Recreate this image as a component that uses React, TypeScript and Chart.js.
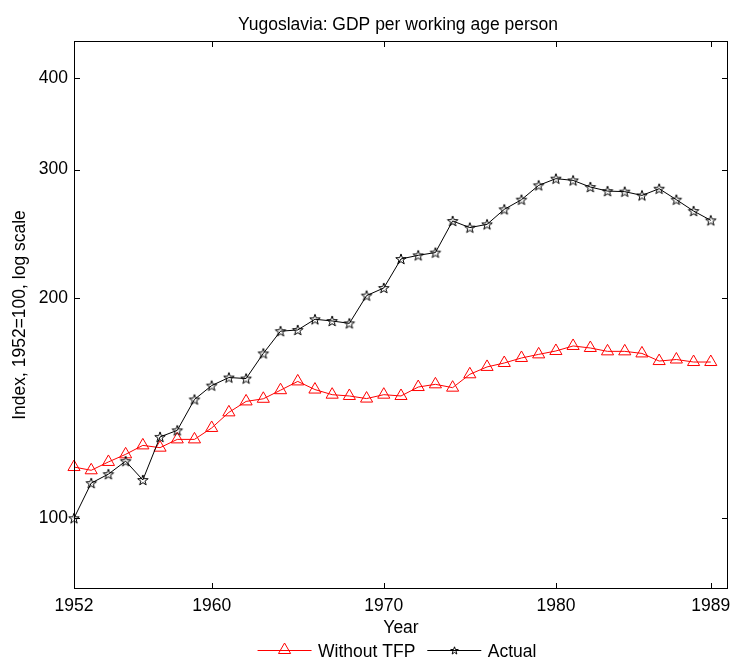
import React, { useEffect, useRef } from "react";
import { Chart, registerables } from "chart.js";

Chart.register(...registerables);

const YEARS = [
  1952, 1953, 1954, 1955, 1956, 1957, 1958, 1959, 1960, 1961,
  1962, 1963, 1964, 1965, 1966, 1967, 1968, 1969, 1970, 1971,
  1972, 1973, 1974, 1975, 1976, 1977, 1978, 1979, 1980, 1981,
  1982, 1983, 1984, 1985, 1986, 1987, 1988, 1989,
];

const WITHOUT_TFP = [
  117.5, 116.3, 119.4, 122.3, 125.8, 124.9, 128.2, 128.2, 132.9, 139.6,
  144.5, 145.7, 149.7, 153.9, 150.0, 147.6, 147.0, 145.8, 147.6, 147.0,
  151.2, 152.5, 150.9, 157.4, 161.1, 163.1, 165.7, 167.6, 169.4, 172.1,
  171.0, 169.2, 169.2, 168.1, 164.1, 164.9, 163.6, 163.6,
];

const ACTUAL = [
  100.0, 111.7, 114.9, 119.7, 112.8, 129.2, 131.9, 145.4, 151.9, 155.8,
  155.3, 168.1, 180.3, 181.0, 187.2, 186.2, 184.8, 201.7, 206.6, 226.4,
  229.0, 231.0, 255.2, 249.9, 252.5, 264.7, 272.9, 285.5, 291.6, 290.0,
  284.0, 280.4, 279.9, 276.6, 282.5, 272.9, 263.3, 255.7,
];

const X_TICKS = [1952, 1960, 1970, 1980, 1989];
const Y_TICKS = [100, 200, 300, 400];

const TITLE = "Yugoslavia: GDP per working age person";
const X_LABEL = "Year";
const Y_LABEL = "Index, 1952=100, log scale";
const SERIES_LABELS = ["Without TFP", "Actual"];

const FONT = '"Liberation Sans", Arial, Helvetica, sans-serif';
const FS = 17.5;

function makeStar(R: number): HTMLCanvasElement {
  const size = Math.ceil(R * 2 + 3);
  const c = document.createElement("canvas");
  c.width = size;
  c.height = size;
  const ctx = c.getContext("2d")!;
  const cx = size / 2;
  const cy = size / 2 + R * 0.08;
  ctx.beginPath();
  for (let i = 0; i < 10; i++) {
    const r = i % 2 === 0 ? R : R * 0.4;
    const a = -Math.PI / 2 + (i * Math.PI) / 5;
    const px = cx + r * Math.cos(a);
    const py = cy + r * Math.sin(a);
    if (i === 0) ctx.moveTo(px, py);
    else ctx.lineTo(px, py);
  }
  ctx.closePath();
  ctx.strokeStyle = "#000";
  ctx.lineWidth = 1;
  ctx.stroke();
  return c;
}

export default function App() {
  const ref = useRef<HTMLCanvasElement | null>(null);

  useEffect(() => {
    if (!ref.current) return;
    const star = makeStar(5.5);
    const smallStar = makeStar(4);

    const framePlugin = {
      id: "frameAndText",
      afterDraw(chart: any) {
        const { ctx, chartArea: a, scales } = chart;
        ctx.save();
        ctx.strokeStyle = "#000";
        ctx.lineWidth = 1;
        ctx.strokeRect(a.left + 0.5, a.top + 0.5, a.right - a.left - 1, a.bottom - a.top - 1);
        const T = 6;
        ctx.beginPath();
        scales.x.ticks.forEach((t: any) => {
          const px = Math.round(scales.x.getPixelForValue(t.value)) + 0.5;
          ctx.moveTo(px, a.bottom);
          ctx.lineTo(px, a.bottom - T);
          ctx.moveTo(px, a.top);
          ctx.lineTo(px, a.top + T);
        });
        scales.y.ticks.forEach((t: any) => {
          const py = Math.round(scales.y.getPixelForValue(t.value)) + 0.5;
          ctx.moveTo(a.left, py);
          ctx.lineTo(a.left + T, py);
          ctx.moveTo(a.right, py);
          ctx.lineTo(a.right - T, py);
        });
        ctx.stroke();

        // title
        ctx.fillStyle = "#000";
        ctx.font = `${FS}px ${FONT}`;
        ctx.textAlign = "center";
        ctx.textBaseline = "alphabetic";
        ctx.fillText(TITLE, (a.left + a.right) / 2 - 3, 29.5);

        // legend
        const ds = chart.data.datasets;
        const lineLen = 54;
        const g1 = 6.5;
        const g2 = 12;
        const widths = ds.map((d: any) => ctx.measureText(d.label).width);
        const total = ds.length * (lineLen + g1) + widths.reduce((s: number, w: number) => s + w, 0) + g2 * (ds.length - 1);
        const cxLegend = (a.left + a.right) / 2 - 4;
        let x = cxLegend - total / 2;
        const ly = 650;
        ctx.textAlign = "left";
        ds.forEach((d: any, i: number) => {
          ctx.strokeStyle = d.borderColor;
          ctx.lineWidth = 1;
          ctx.beginPath();
          ctx.moveTo(x, ly + 0.5);
          ctx.lineTo(x + lineLen, ly + 0.5);
          ctx.stroke();
          const mx = x + lineLen / 2;
          if (d.pointStyle === "triangle") {
            const r = 7;
            ctx.beginPath();
            ctx.moveTo(mx, ly - r);
            ctx.lineTo(mx + r * Math.sin((2 * Math.PI) / 3), ly - r * Math.cos((2 * Math.PI) / 3));
            ctx.lineTo(mx + r * Math.sin((4 * Math.PI) / 3), ly - r * Math.cos((4 * Math.PI) / 3));
            ctx.closePath();
            ctx.stroke();
          } else {
            ctx.drawImage(smallStar, Math.round(mx - smallStar.width / 2), Math.round(ly - smallStar.height / 2));
          }
          x += lineLen + g1;
          ctx.fillStyle = "#000";
          ctx.fillText(d.label, x, 656.5);
          x += widths[i] + g2;
        });
        ctx.restore();
      },
    };

    const font = { family: FONT, size: FS };

    const chart = new Chart(ref.current, {
      type: "line",
      data: {
        datasets: [
          {
            label: SERIES_LABELS[0],
            data: YEARS.map((yr, i) => ({ x: yr, y: WITHOUT_TFP[i] })),
            borderColor: "#ff0000",
            backgroundColor: "rgba(0,0,0,0)",
            borderWidth: 1,
            pointStyle: "triangle",
            pointRadius: 7,
            pointBorderColor: "#ff0000",
            pointBackgroundColor: "rgba(0,0,0,0)",
            pointBorderWidth: 1,
            tension: 0,
            clip: false,
            order: 1,
          },
          {
            label: SERIES_LABELS[1],
            data: YEARS.map((yr, i) => ({ x: yr, y: ACTUAL[i] })),
            borderColor: "#000000",
            backgroundColor: "rgba(0,0,0,0)",
            borderWidth: 1,
            pointStyle: star as any,
            pointRadius: 6,
            pointBorderColor: "#000000",
            pointBackgroundColor: "rgba(0,0,0,0)",
            tension: 0,
            clip: false,
            order: 0,
          },
        ] as any,
      },
      options: {
        responsive: false,
        animation: false,
        devicePixelRatio: 1,
        events: [],
        layout: { autoPadding: false, padding: { top: 41, right: 3, bottom: 0, left: 0 } },
        plugins: {
          legend: { display: false },
          title: { display: false },
          tooltip: { enabled: false },
        },
        scales: {
          x: {
            type: "linear",
            min: 1952,
            max: 1990,
            afterBuildTicks: (s: any) => {
              s.ticks = X_TICKS.map((v) => ({ value: v }));
            },
            afterFit: (s: any) => {
              s.height = 73;
              s.paddingLeft = 0;
              s.paddingRight = 0;
            },
            grid: {
              display: true,
              drawOnChartArea: false,
              drawTicks: true,
              tickLength: 6.5,
              color: "rgba(0,0,0,0)",
            },
            border: { display: false },
            ticks: {
              padding: 0,
              font,
              color: "#000",
              autoSkip: false,
              maxRotation: 0,
              callback: (v: any) => String(v),
            },
            title: {
              display: true,
              text: X_LABEL,
              font,
              color: "#000",
              padding: { top: 0, bottom: 23.5 },
            },
          },
          y: {
            type: "logarithmic",
            min: 80,
            max: 450,
            afterBuildTicks: (s: any) => {
              s.ticks = Y_TICKS.map((v) => ({ value: v }));
            },
            afterFit: (s: any) => {
              s.width = 74;
              s.paddingTop = 0;
              s.paddingBottom = 0;
            },
            grid: { display: false, drawTicks: false },
            border: { display: false },
            ticks: {
              padding: 6,
              font,
              color: "#000",
              autoSkip: false,
              callback: (v: any) => String(v),
            },
            title: {
              display: true,
              text: Y_LABEL,
              font,
              color: "#000",
              padding: { top: 10, bottom: 0 },
            },
          },
        },
      } as any,
      plugins: [framePlugin],
    });

    return () => chart.destroy();
  }, []);

  return (
    <div style={{ position: "fixed", left: 0, top: 0, width: 731, height: 662, background: "#fff" }}>
      <canvas ref={ref} width={731} height={662} style={{ display: "block", width: 731, height: 662 }} />
    </div>
  );
}
